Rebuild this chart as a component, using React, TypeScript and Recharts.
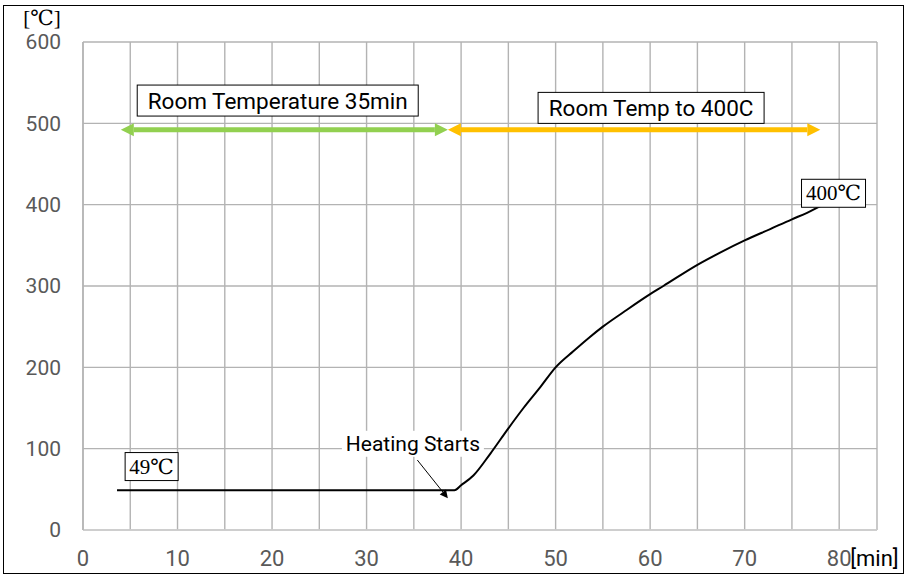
import React from 'react';
import {
  LineChart,
  Line,
  XAxis,
  YAxis,
  CartesianGrid,
  ReferenceLine,
  ReferenceDot,
} from 'recharts';

// Furnace temperature log
const minutes = [3.6, 39.3, 40, 41.3, 43.1, 45, 46.6, 48.4, 50, 51.9, 53.6, 55, 57.2, 60, 61.4, 65, 67.4, 70, 72.7, 75, 76.6, 78.3];
const temps = [49, 49, 55, 67, 94, 125, 150, 176, 200, 220, 237, 250, 268, 290, 300, 326, 341, 356, 370, 382, 390, 400];

const xTicks = [0, 5, 10, 15, 20, 25, 30, 35, 40, 45, 50, 55, 60, 65, 70, 75, 80];
const yTicks = [0, 100, 200, 300, 400, 500, 600];

// Phase arrows (minutes at both ends, temperature level)
const phases = [
  { from: 4, to: 38.6, level: 492, color: '#92d050', label: 'Room Temperature 35min', lx: 20.6, ly: 528, w: 281 },
  { from: 38.6, to: 78, level: 492, color: '#ffc000', label: 'Room Temp to 400C', lx: 60.1, ly: 519, w: 226 },
];

// Boxed value callouts
const callouts = [
  { x: 7.26, y: 78, text: '49℃', w: 53 },
  { x: 79.4, y: 414, text: '400℃', w: 64 },
];

const rows = minutes.map((m, i) => ({ min: m, temp: temps[i] }));

const SANS = 'Roboto, "Noto Sans", sans-serif';
const SERIF = '"Liberation Serif", "DejaVu Serif", serif';

const Arrow = (props: any) => {
  const { x1, y1, x2, y2, color, width, head, startHead = true, endHead = true } = props;
  const len = Math.hypot(x2 - x1, y2 - y1);
  const ux = (x2 - x1) / len;
  const uy = (y2 - y1) / len;
  const hl = head * 1.0;
  const hw = head * 0.5;
  const sx = startHead ? x1 + ux * hl : x1;
  const sy = startHead ? y1 + uy * hl : y1;
  const ex = endHead ? x2 - ux * hl : x2;
  const ey = endHead ? y2 - uy * hl : y2;
  const tri = (tx: number, ty: number, dx: number, dy: number) => {
    const bx = tx - dx * hl;
    const by = ty - dy * hl;
    return `${tx},${ty} ${bx - dy * hw},${by + dx * hw} ${bx + dy * hw},${by - dx * hw}`;
  };
  return (
    <g>
      <line x1={sx} y1={sy} x2={ex} y2={ey} stroke={color} strokeWidth={width} />
      {startHead && <polygon points={tri(x1, y1, -ux, -uy)} fill={color} />}
      {endHead && <polygon points={tri(x2, y2, ux, uy)} fill={color} />}
    </g>
  );
};

const Box = ({ cx, cy, w, h, text, font, size }: any) => (
  <g>
    <rect x={cx - w / 2} y={cy - h / 2} width={w} height={h} fill="#fff" stroke="#000" strokeWidth={1} />
    <text x={cx} y={cy} textAnchor="middle" dominantBaseline="central" fontFamily={font} fontSize={size} fill="#000">
      {text}
    </text>
  </g>
);

export default function App() {
  return (
    <div style={{ position: 'absolute', left: 0, top: 0, width: 909, height: 578, background: '#fff' }}>
      <div
        style={{
          position: 'absolute',
          left: 3,
          top: 5,
          width: 901,
          height: 569,
          border: '1px solid #000',
          boxSizing: 'border-box',
        }}
      />
      <LineChart width={909} height={578} data={rows} margin={{ top: 42, right: 32, bottom: 0, left: 0 }}>
        <CartesianGrid stroke="#b3b3b3" strokeWidth={1.4} />
        <XAxis
          dataKey="min"
          type="number"
          domain={[0, 84]}
          ticks={xTicks}
          interval={0}
          height={48}
          tickSize={0}
          tickMargin={20}
          tickFormatter={(v: number) => (v % 10 === 0 ? String(v) : '')}
          tick={{ fontSize: 22, fill: '#595959', fontFamily: SANS }}
          axisLine={{ stroke: '#d0d0d0', strokeWidth: 1.4 }}
        />
        <YAxis
          type="number"
          domain={[0, 600]}
          ticks={yTicks}
          width={83}
          tickSize={0}
          tickMargin={22}
          tick={{ fontSize: 21, fill: '#595959', fontFamily: SANS }}
          axisLine={{ stroke: '#b3b3b3', strokeWidth: 1.4 }}
        />
        <Line
          dataKey="temp"
          type="monotone"
          stroke="#000"
          strokeWidth={2}
          dot={false}
          isAnimationActive={false}
        />
        {phases.map((p) => (
          <ReferenceLine
            key={p.label}
            segment={[{ x: p.from, y: p.level }, { x: p.to, y: p.level }]}
            shape={(s: any) => <Arrow {...s} color={p.color} width={5} head={13} />}
          />
        ))}
        {phases.map((p) => (
          <ReferenceDot
            key={p.label + '-box'}
            x={p.lx}
            y={p.ly}
            r={0}
            shape={(s: any) => <Box cx={s.cx} cy={s.cy} w={p.w} h={31} text={p.label} font={SANS} size={22.5} />}
          />
        ))}
        <ReferenceLine
          segment={[{ x: 35.37, y: 86 }, { x: 38.6, y: 39 }]}
          shape={(s: any) => <Arrow {...s} color="#000" width={1} head={8} startHead={false} />}
        />
        <ReferenceDot
          x={34.9}
          y={106}
          r={0}
          shape={(s: any) => (
            <g>
              <rect x={s.cx - 71} y={s.cy - 13} width={142} height={26} fill="#fff" />
              <text x={s.cx} y={s.cy} textAnchor="middle" dominantBaseline="central" fontFamily={SANS} fontSize={21} fill="#000">
                Heating Starts
              </text>
            </g>
          )}
        />
        {callouts.map((c) => (
          <ReferenceDot
            key={c.text}
            x={c.x}
            y={c.y}
            r={0}
            shape={(s: any) => <Box cx={s.cx} cy={s.cy} w={c.w} h={28} text={c.text} font={SERIF} size={21} />}
          />
        ))}
        <ReferenceDot
          x={0}
          y={600}
          r={0}
          shape={(s: any) => (
            <text x={s.cx - 41} y={s.cy - 24} textAnchor="middle" dominantBaseline="central" fontFamily={SERIF} fontSize={21} fill="#000">
              [℃]
            </text>
          )}
        />
        <ReferenceDot
          x={80}
          y={0}
          r={0}
          shape={(s: any) => (
            <text x={s.cx + 11} y={s.cy + 36} textAnchor="start" fontFamily={SANS} fontSize={22} fill="#000">
              [min]
            </text>
          )}
        />
      </LineChart>
    </div>
  );
}
